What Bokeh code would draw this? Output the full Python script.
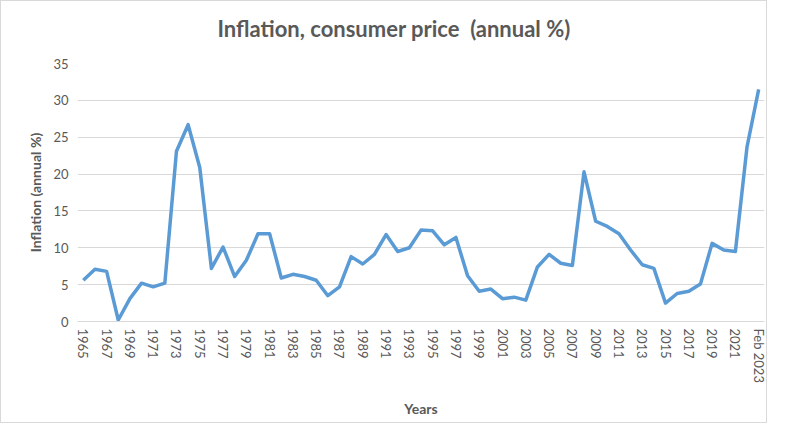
from bokeh.plotting import figure
from bokeh.models import FixedTicker, Range1d, ColumnDataSource, Title
from bokeh.embed import file_html
from bokeh.resources import INLINE

years = [str(y) for y in range(1965, 2023)] + ["Feb 2023"]
inflation = [5.6, 7.1, 6.8, 0.2, 3.1, 5.2, 4.7, 5.2, 23.1, 26.7,
             20.9, 7.2, 10.1, 6.1, 8.3, 11.9, 11.9, 5.9, 6.4, 6.1,
             5.6, 3.5, 4.7, 8.8, 7.8, 9.1, 11.8, 9.5, 10.0, 12.4,
             12.3, 10.4, 11.4, 6.2, 4.1, 4.4, 3.1, 3.3, 2.9, 7.4,
             9.1, 7.9, 7.6, 20.3, 13.6, 12.9, 11.9, 9.7, 7.7, 7.2,
             2.5, 3.8, 4.1, 5.1, 10.6, 9.7, 9.5, 23.7, 31.5]
y_ticks = [0, 5, 10, 15, 20, 25, 30, 35]

idx = list(range(len(years)))
src = ColumnDataSource(dict(x=idx, y=inflation, label=years))

TXT = "#595959"
FONT = "Lato"

p = figure(width=767, height=423, output_backend="svg", toolbar_location=None,
           x_range=Range1d(-0.5, len(years) - 0.5), y_range=Range1d(0, 35),
           min_border_left=76, min_border_right=4, min_border_top=62, min_border_bottom=103)
p.styles = {"border": "1px solid #d9d9d9"}
p.outline_line_color = None
p.background_fill_color = "white"
p.border_fill_color = "white"

p.title.text = "Inflation, consumer price\u00a0 (annual %)"
p.title.align = "left"
p.title.offset = 140
p.title.text_font = FONT
p.title.text_font_size = "22px"
p.title.text_font_style = "bold"
p.title.text_color = TXT
p.title.standoff = 10

# empty spacer between title and plot area
p.add_layout(Title(text=" ", text_font_size="1px", standoff=14), "above")

p.line("x", "y", source=src, line_color="#5B9BD5", line_width=3.5, line_join="round")

# x axis
xa = p.xaxis[0]
even = idx[::2]
xa.ticker = FixedTicker(ticks=even)
xa.major_label_overrides = {i: years[i] for i in even}
xa.major_label_orientation = "vertical"
xa.major_label_text_font = FONT
xa.major_label_text_font_size = "13px"
xa.major_label_text_color = TXT
xa.major_label_standoff = 7
xa.major_tick_line_color = None
xa.major_tick_out = 0
xa.major_tick_in = 0
xa.minor_tick_line_color = None
xa.axis_line_color = "#d9d9d9"
xa.axis_label = "Years"
xa.axis_label_text_font = FONT
xa.axis_label_text_font_size = "14px"
xa.axis_label_text_font_style = "bold"
xa.axis_label_text_color = TXT
xa.axis_label_standoff = 14

# y axis
ya = p.yaxis[0]
ya.ticker = FixedTicker(ticks=y_ticks)
ya.major_label_text_font = FONT
ya.major_label_text_font_size = "13px"
ya.major_label_text_color = TXT
ya.major_label_standoff = 9
ya.major_tick_line_color = None
ya.major_tick_out = 0
ya.major_tick_in = 0
ya.minor_tick_line_color = None
ya.axis_line_color = None
ya.axis_label = "Inflation (annual %)"
ya.axis_label_text_font = FONT
ya.axis_label_text_font_size = "14px"
ya.axis_label_text_font_style = "bold"
ya.axis_label_text_color = TXT
ya.axis_label_standoff = 6

p.xgrid.grid_line_color = None
p.ygrid.grid_line_color = "#d9d9d9"
p.ygrid.grid_line_width = 1

open("out.html", "w").write(file_html(p, INLINE))
